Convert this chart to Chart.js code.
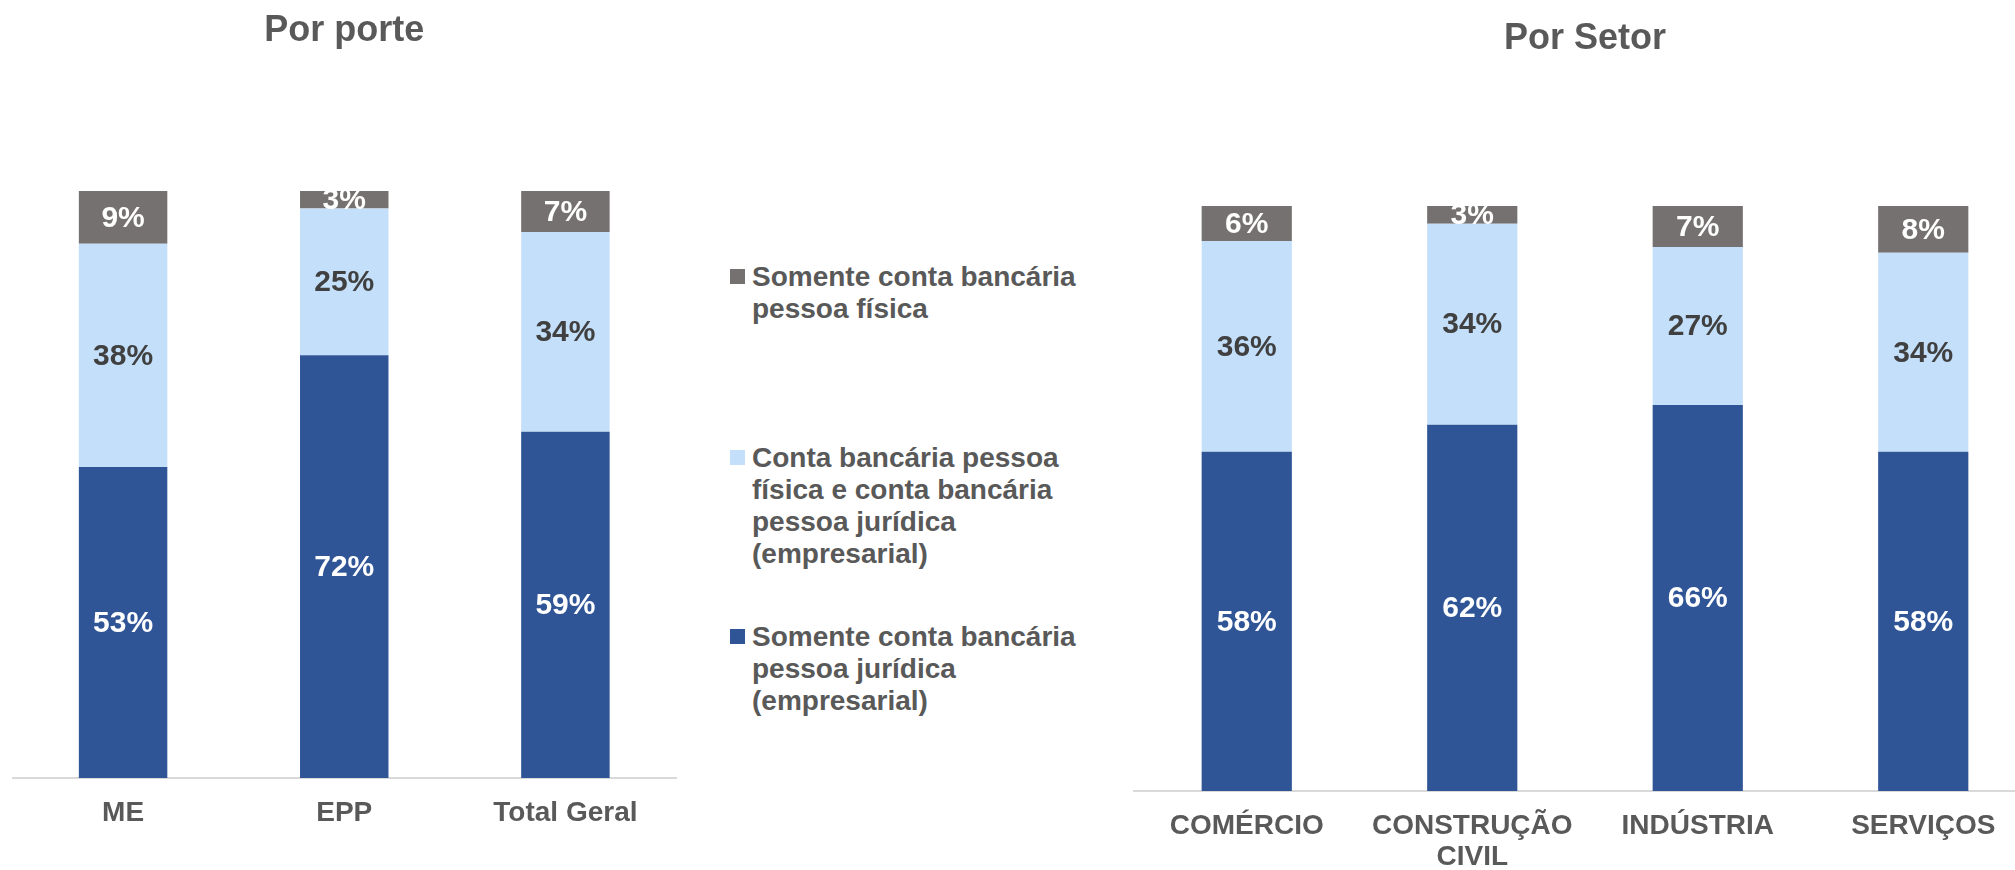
<!DOCTYPE html>
<html lang="pt-BR">
<head>
<meta charset="utf-8">
<script src="https://cdn.jsdelivr.net/npm/chart.js@4"></script>
<style>
  html, body { margin: 0; padding: 0; background: #fff; overflow: hidden; }
  body { width: 2015px; height: 870px; position: relative; font-family: "Liberation Sans", Arial, sans-serif; }
  #porteChart { position: absolute; left: 0; top: 0; }
  #setorChart { position: absolute; left: 1100px; top: 0; }
  .legend { position: absolute; left: 730px; top: 0; color: #595959; font-weight: bold; font-size: 28px; line-height: 32px; }
  .legend .item { position: absolute; left: 0; white-space: nowrap; }
  .legend .box { position: absolute; left: 0; top: 8px; width: 15px; height: 15px; }
  .legend .txt { position: absolute; left: 22px; top: 0; }
</style>
</head>
<body>
<canvas id="porteChart" width="706" height="870"></canvas>
<canvas id="setorChart" width="974" height="870"></canvas>

<div class="legend" id="legenda"></div>

<script>
const corJuridica = '#2f5597';
const corAmbas    = '#c3dffa';
const corFisica   = '#767171';
const corTexto    = '#595959';

const legendaTextos = [
  ['Somente conta bancária', 'pessoa física'],
  ['Conta bancária pessoa', 'física e conta bancária', 'pessoa jurídica', '(empresarial)'],
  ['Somente conta bancária', 'pessoa jurídica', '(empresarial)']
];

// Por porte
const porteLabels   = ['ME', 'EPP', 'Total Geral'];
const porteJuridica = [53, 72, 59];
const porteAmbas    = [38, 25, 34];
const porteFisica   = [9, 3, 7];

// Por setor
const setorLabels   = ['COMÉRCIO', ['CONSTRUÇÃO', 'CIVIL'], 'INDÚSTRIA', 'SERVIÇOS'];
const setorJuridica = [58, 62, 66, 58];
const setorAmbas    = [36, 34, 27, 34];
const setorFisica   = [6, 3, 7, 8];

const FONT = '"Liberation Sans", Arial, sans-serif';

// 100% empilhado, como no Excel
function normaliza(series) {
  const totais = series[0].map((_, i) => series.reduce((a, s) => a + s[i], 0));
  return series.map(s => s.map((v, i) => v / totais[i] * 100));
}

const rotulosPlugin = {
  id: 'rotulos',
  afterDatasetsDraw(chart) {
    const ctx = chart.ctx;
    ctx.save();
    ctx.font = 'bold 30px ' + FONT;
    ctx.textAlign = 'center';
    ctx.textBaseline = 'middle';
    chart.data.datasets.forEach((ds, di) => {
      const meta = chart.getDatasetMeta(di);
      meta.data.forEach((bar, i) => {
        const p = bar.getProps(['x', 'y', 'base'], true);
        ctx.fillStyle = ds.labelColor;
        ctx.fillText(ds.raw[i] + '%', p.x, (p.y + p.base) / 2 + 1);
      });
    });
    ctx.restore();
  }
};

function makeChart(id, labels, juridica, ambas, fisica, titulo, tituloTop, areaTop, eixoAltura, padLeft, padRight) {
  const [nJ, nA, nF] = normaliza([juridica, ambas, fisica]);
  const bar = { categoryPercentage: 1, barPercentage: 0.4, borderWidth: 0 };
  return new Chart(document.getElementById(id), {
    type: 'bar',
    data: {
      labels: labels,
      datasets: [
        { ...bar, label: legendaTextos[2].join(' '), data: nJ, raw: juridica, backgroundColor: corJuridica, labelColor: '#ffffff' },
        { ...bar, label: legendaTextos[1].join(' '), data: nA, raw: ambas,    backgroundColor: corAmbas,    labelColor: '#404040' },
        { ...bar, label: legendaTextos[0].join(' '), data: nF, raw: fisica,   backgroundColor: corFisica,   labelColor: '#ffffff' }
      ]
    },
    options: {
      responsive: false,
      animation: false,
      layout: { padding: { left: padLeft, right: padRight, top: 0, bottom: 0 } },
      plugins: {
        legend: { display: false },
        tooltip: { enabled: false },
        title: {
          display: true,
          text: titulo,
          color: corTexto,
          font: { family: FONT, size: 36, weight: 'bold', lineHeight: 1.2 },
          padding: { top: tituloTop - 21.6, bottom: areaTop - tituloTop - 21.6 }
        }
      },
      scales: {
        x: {
          stacked: true,
          grid: { display: false, drawTicks: false },
          border: { display: true, color: '#d9d9d9', width: 2 },
          ticks: {
            color: corTexto,
            padding: 20,
            maxRotation: 0,
            autoSkip: false,
            font: { family: FONT, size: 28, weight: 'bold', lineHeight: 1.1 }
          },
          afterFit: (s) => { s.height = eixoAltura; }
        },
        y: { stacked: true, display: false, min: 0, max: 100 }
      }
    },
    plugins: [rotulosPlugin]
  });
}

makeChart('porteChart', porteLabels, porteJuridica, porteAmbas, porteFisica, 'Por porte', 31, 191, 92, 12.5, 30);
makeChart('setorChart', setorLabels, setorJuridica, setorAmbas, setorFisica, 'Por Setor', 39, 206, 79, 34, 38);

// legenda em HTML
const legendaCores = [corFisica, corAmbas, corJuridica];
const legendaTops  = [261, 442, 621];
const leg = document.getElementById('legenda');
legendaTextos.forEach((linhas, i) => {
  const item = document.createElement('div');
  item.className = 'item';
  item.style.top = legendaTops[i] + 'px';
  item.innerHTML = '<span class="box" style="background:' + legendaCores[i] + '"></span>' +
    '<span class="txt">' + linhas.join('<br>') + '</span>';
  leg.appendChild(item);
});
</script>
</body>
</html>
